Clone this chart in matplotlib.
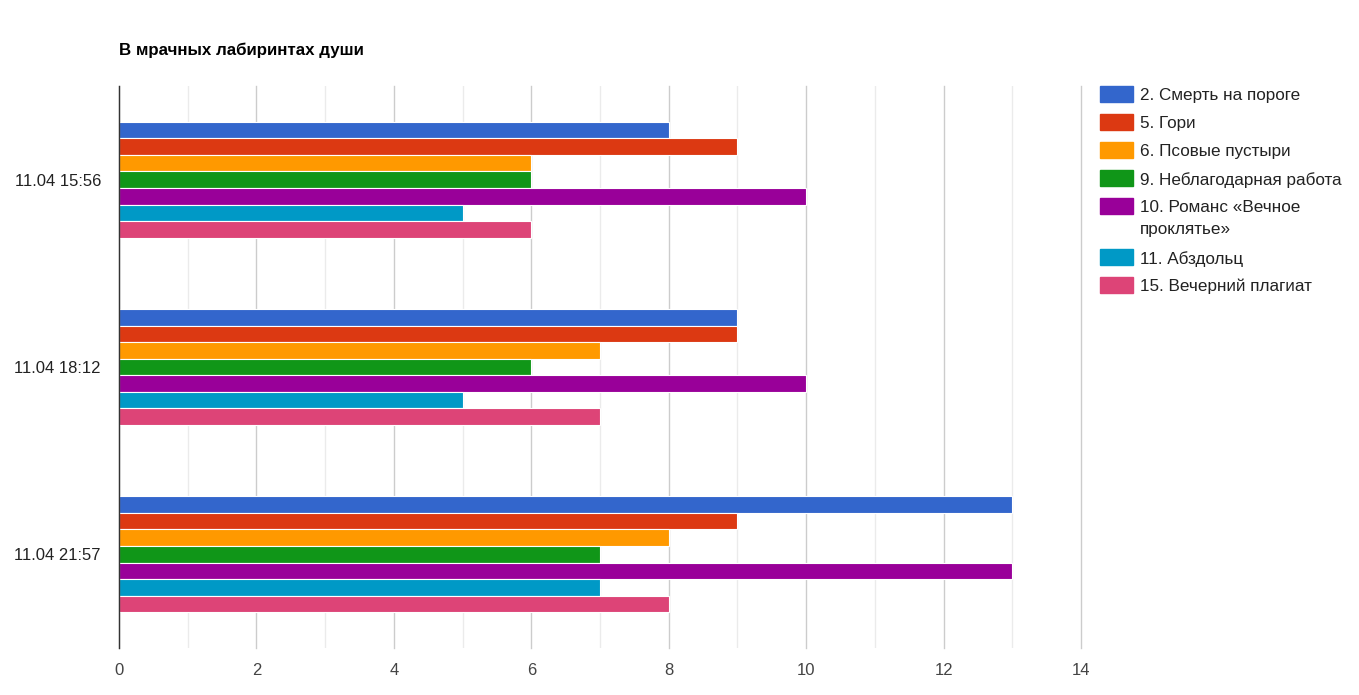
import numpy as np
import matplotlib.pyplot as plt
from matplotlib.patches import Rectangle

plt.rcParams['font.family'] = ['Liberation Sans', 'DejaVu Sans']

title = "В мрачных лабиринтах души"
categories = ["11.04 15:56", "11.04 18:12", "11.04 21:57"]
series_names = [
    "2. Смерть на пороге",
    "5. Гори",
    "6. Псовые пустыри",
    "9. Неблагодарная работа",
    "10. Романс «Вечное\nпроклятье»",
    "11. Абздольц",
    "15. Вечерний плагиат",
]
values = [
    [8, 9, 13],
    [9, 9, 9],
    [6, 7, 8],
    [6, 6, 7],
    [10, 10, 13],
    [5, 5, 7],
    [6, 7, 8],
]
colors = ["#3366cc", "#dc3912", "#ff9900", "#109618", "#990099", "#0099c6", "#dd4477"]

W, H = 1359, 695
fig = plt.figure(figsize=(W / 100, H / 100), dpi=100)
ax = fig.add_axes([119 / W, 1 - 648 / H, (1081 - 119) / W, (648 - 86) / H])

n = len(series_names)
group_w = 0.62
bar_h = group_w / n
y = np.arange(len(categories))
for i, (name, vals, c) in enumerate(zip(series_names, values, colors)):
    off = -group_w / 2 + bar_h * (i + 0.5)
    ax.barh(y + off, vals, height=bar_h, color=c, edgecolor="white", linewidth=0.8, zorder=3)

ax.set_ylim(2.5, -0.5)
ax.set_xlim(0, 14)
ax.set_xticks(np.arange(0, 15, 2))
ax.set_xticks(np.arange(1, 15, 2), minor=True)
ax.grid(True, which="major", axis="x", color="#cccccc", linewidth=1, zorder=0)
ax.grid(True, which="minor", axis="x", color="#ebebeb", linewidth=1, zorder=0)
for gl in ax.get_xgridlines():
    gl.set_clip_on(False)
ax.set_yticks(y)
ax.set_yticklabels(categories)
ax.tick_params(axis="both", which="both", length=0, labelsize=12, colors="#222222")
ax.tick_params(axis="x", pad=11, labelcolor="#444444")
ax.tick_params(axis="y", pad=13)
for s in ["top", "right", "bottom"]:
    ax.spines[s].set_visible(False)
ax.spines["left"].set_color("#333333")
ax.spines["left"].set_linewidth(1)
ax.spines["left"].set_zorder(4)

fig.text(119 / W, 1 - 50 / H, title, fontsize=12.2, fontweight="bold", va="center", ha="left")

# legend
ly = 94
for name, c in zip(series_names, colors):
    fig.patches.append(Rectangle((1100 / W, 1 - (ly + 8) / H), 33 / W, 16 / H,
                                 transform=fig.transFigure, color=c))
    fig.text(1140 / W, 1 - (ly - 6) / H, name, fontsize=12.3, color="#222222",
             va="top", ha="left", linespacing=1.6, transform=fig.transFigure)
    ly += 28 + 23 * name.count("\n")

fig.savefig("out.png", dpi=100)
